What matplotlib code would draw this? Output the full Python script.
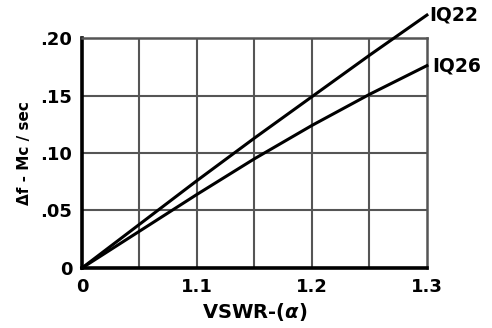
import matplotlib
matplotlib.use("Agg")
import matplotlib.pyplot as plt

# VSWR values and frequency shift (Mc/sec) for the two tubes
vswr = [1.0, 1.05, 1.1, 1.15, 1.2, 1.25, 1.3]
iq22 = [0.0, 0.038, 0.076, 0.113, 0.149, 0.185, 0.220]
iq26 = [0.0, 0.032, 0.064, 0.095, 0.124, 0.151, 0.176]

xticks = [1.0, 1.1, 1.2, 1.3]
xticklabels = ["0", "1.1", "1.2", "1.3"]
yticks = [0.0, 0.05, 0.10, 0.15, 0.20]
yticklabels = ["0", ".05", ".10", ".15", ".20"]

plt.rcParams["font.family"] = ["DejaVu Sans"]
plt.rcParams["font.weight"] = "bold"

fig = plt.figure(figsize=(4.92, 3.28), dpi=100)
ax = fig.add_axes([0.1667, 0.183, 0.701, 0.701])

ax.set_xlim(1.0, 1.3)
ax.set_ylim(0, 0.20)

# grid every 0.05 in both directions
for gx in [1.05, 1.1, 1.15, 1.2, 1.25]:
    ax.axvline(gx, color="#555555", lw=1.5, zorder=1)
for gy in [0.05, 0.10, 0.15]:
    ax.axhline(gy, color="#555555", lw=1.5, zorder=1)

ax.plot(vswr, iq22, color="black", lw=2.2, clip_on=False, zorder=3)
ax.plot(vswr, iq26, color="black", lw=2.2, clip_on=False, zorder=3)

ax.text(1.302, iq22[-1], "IQ22", fontsize=13.5, fontweight="bold", va="center", ha="left")
ax.text(1.305, iq26[-1], "IQ26", fontsize=13.5, fontweight="bold", va="center", ha="left")

ax.set_xticks(xticks)
ax.set_xticklabels(xticklabels, fontsize=13, fontweight="bold")
ax.set_yticks(yticks)
ax.set_yticklabels(yticklabels, fontsize=13, fontweight="bold")
ax.tick_params(axis="x", length=0, pad=7)
ax.tick_params(axis="y", length=0, pad=7)

for s in ["left", "bottom"]:
    ax.spines[s].set_linewidth(2.6)
for s in ["top", "right"]:
    ax.spines[s].set_linewidth(1.8)
    ax.spines[s].set_color("#555555")

ax.set_xlabel("VSWR-($\\alpha$)", fontsize=14, fontweight="bold", labelpad=4)
ax.set_ylabel("Δf - Mc / sec", fontsize=11, fontweight="bold", labelpad=6)

fig.savefig("out.png", dpi=100)
